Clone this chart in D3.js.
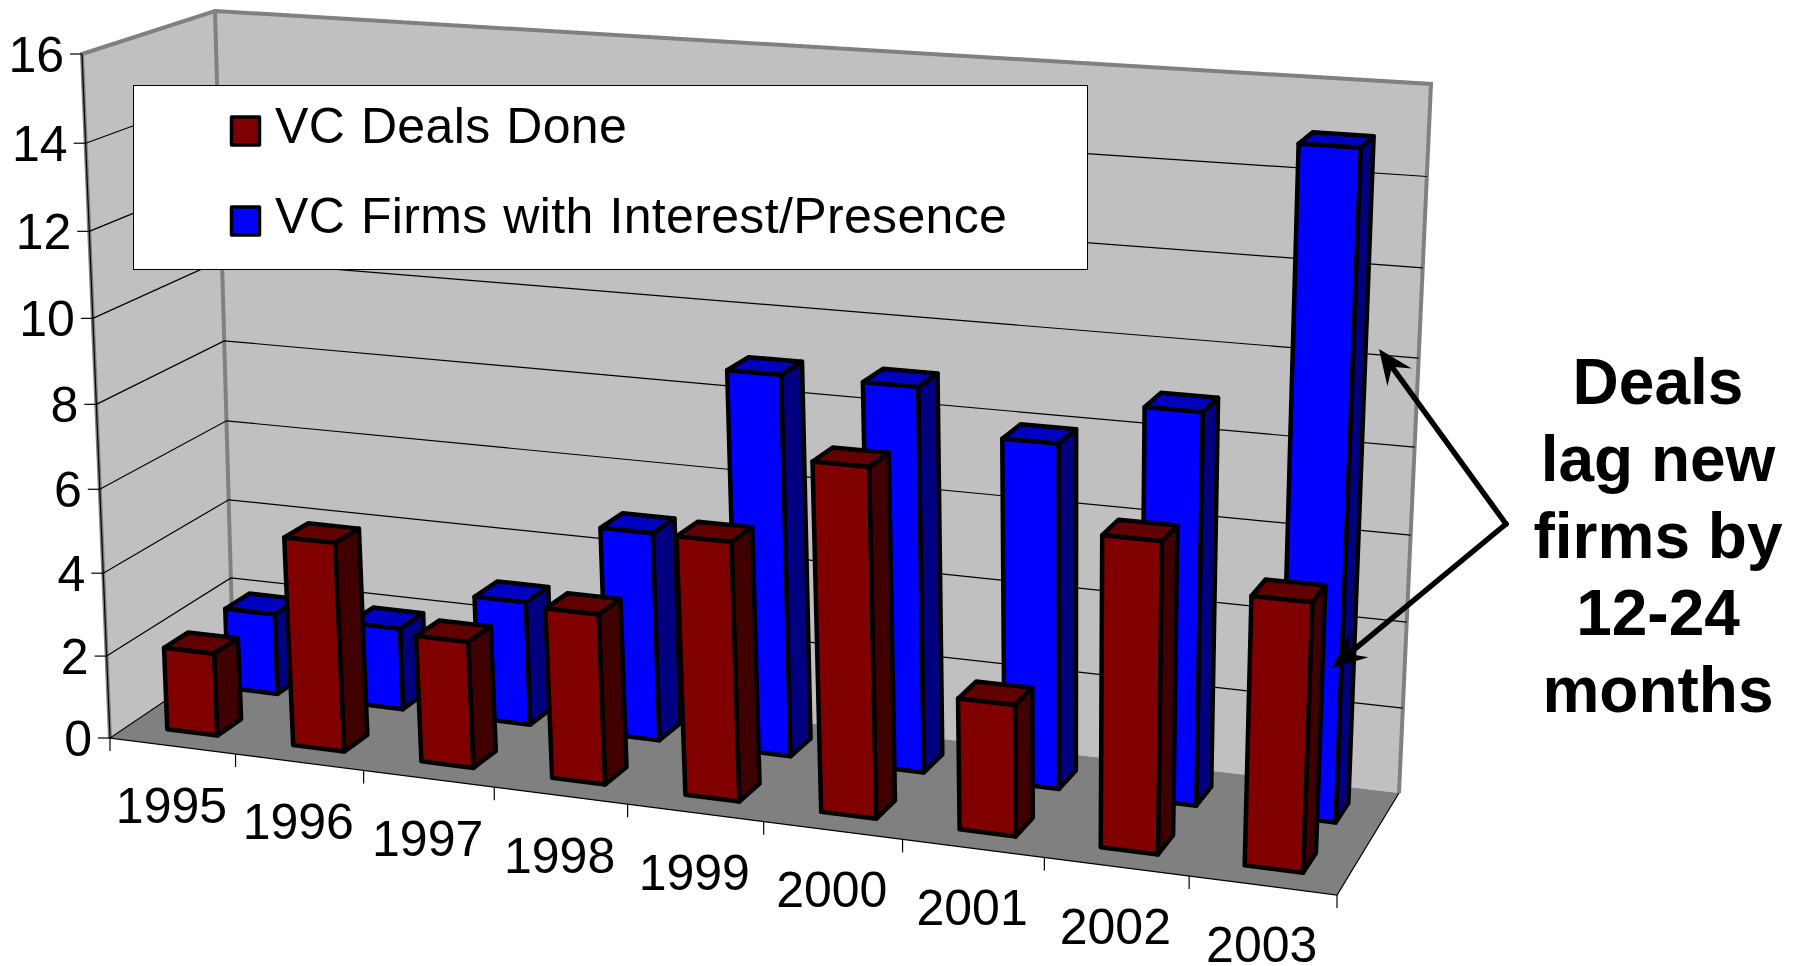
<!DOCTYPE html>
<html>
<head>
<meta charset="utf-8">
<script src="https://cdn.jsdelivr.net/npm/d3@7"></script>
<style>
  html, body { margin: 0; padding: 0; background: #fff; overflow: hidden; }
  text { font-family: "Liberation Sans", Arial, sans-serif; fill: #000; }
</style>
</head>
<body>
<div id="wrapper"></div>
<script>
// data
const years = ["1995","1996","1997","1998","1999","2000","2001","2002","2003"]
const dealsDone = [2,5,3,4,6,8,3,7,6]
const firmsInterest = [2,2,3,5,9,9,8,9,15]
const yTicks = [0,2,4,6,8,10,12,14,16]
const legendLabels = ["VC Deals Done","VC Firms with Interest/Presence"]
const noteLines = ["Deals","lag new","firms by","12-24","months"]

const colors = {
    deals: {front:"#800000", top:"#600000", side:"#400000"},
    firms: {front:"#0000ff", top:"#0000c0", side:"#000080"},
    wall: "#c0c0c0",
    floor: "#808080",
    edge: "#808080"
}

//****************************Dimensions
const width = 1803
const height = 966

// corners of the chart box in the picture: front-left, front-right, back-right, back-left
const floorCorners = [[110,738],[1337,895],[1399,793],[233,655]]
const ceilCorners = [[82,54],[1368,142],[1431,84],[215,11]]

const wrapper = d3.select("#wrapper")
    .append("svg")
    .attr("width", width)
    .attr("height", height)
    .style("display","block")

//****************************Scales
const xScale = d3.scaleBand().domain(years).range([0,1]).paddingInner(0.6).paddingOuter(0.3)
const yScale = d3.scaleLinear().domain([0,16]).range([0,1])
// depth of each row on the floor, 0 front .. 1 back
const depthScale = d3.scaleOrdinal().domain(["deals","firms"]).range([[0.155,0.345],[0.645,0.845]])

// unit square -> quad, perspective
function quadMap(q) {
    const [p0,p1,p2,p3] = q
    const dx1 = p1[0]-p2[0], dx2 = p3[0]-p2[0], sx = p0[0]-p1[0]+p2[0]-p3[0]
    const dy1 = p1[1]-p2[1], dy2 = p3[1]-p2[1], sy = p0[1]-p1[1]+p2[1]-p3[1]
    const den = dx1*dy2-dx2*dy1
    const g = (sx*dy2-dx2*sy)/den
    const h = (dx1*sy-sx*dy1)/den
    const a = p1[0]-p0[0]+g*p1[0], b = p3[0]-p0[0]+h*p3[0], c = p0[0]
    const d = p1[1]-p0[1]+g*p1[1], e = p3[1]-p0[1]+h*p3[1], f = p0[1]
    return (u,v) => {
        const w = g*u+h*v+1
        return [(a*u+b*v+c)/w, (d*u+e*v+f)/w]
    }
}
const floorMap = quadMap(floorCorners)
const ceilMap = quadMap(ceilCorners)

// u along the years, v into the depth, t 0..1 up the value axis
const project = (u,v,t) => {
    const w = u + (0.022+0.03*v)*u*(1-u)   // middle of the chart sits a little further right than plain perspective
    const a = floorMap(w,v), b = ceilMap(w,v)
    const s = t/(t+1.05*(1-t))   // the value axis opens up a bit towards the top too
    return [a[0]+(b[0]-a[0])*s, a[1]+(b[1]-a[1])*s]
}
const poly = d3.line()

//****************************Walls and floor
const walls = wrapper.append("g")

walls.append("path")
    .attr("d", poly([project(0,0,0),project(0,1,0),project(0,1,1),project(0,0,1)])+"Z")
    .attr("fill", colors.wall)
walls.append("path")
    .attr("d", poly([project(0,1,0),project(1,1,0),project(1,1,1),project(0,1,1)])+"Z")
    .attr("fill", colors.wall)
walls.append("path")
    .attr("d", poly([project(0,0,0),project(1,0,0),project(1,1,0),project(0,1,0)])+"Z")
    .attr("fill", colors.floor)

// grey outline of the walls
walls.append("path")
    .attr("d", poly([project(0,0,0),project(0,0,1),project(0,1,1),project(1,1,1),project(1,1,0)]))
    .attr("fill","none").attr("stroke",colors.edge).attr("stroke-width",4)
walls.append("path")
    .attr("d", poly([project(0,1,0),project(0,1,1)]))
    .attr("fill","none").attr("stroke",colors.edge).attr("stroke-width",4)

// gridlines
walls.selectAll(".grid")
    .data(yTicks.slice(1,-1))
    .join("path")
    .attr("class","grid")
    .attr("d", d => poly([project(0,0,yScale(d)),project(0,1,yScale(d)),project(1,1,yScale(d))]))
    .attr("fill","none")
    .attr("stroke","#000")
    .attr("stroke-width",1.2)

// black lines round the floor and y axis
walls.append("path")
    .attr("d", poly([project(0,1,0),project(0,0,0),project(1,0,0),project(1,1,0)]))
    .attr("fill","none").attr("stroke","#000").attr("stroke-width",1.2)
walls.append("path")
    .attr("d", poly([project(0,0,0),project(0,0,1)]))
    .attr("fill","none").attr("stroke","#000").attr("stroke-width",1.2)

//****************************Axes
const yAxis = wrapper.append("g")
const yTick = yAxis.selectAll("g").data(yTicks).join("g")
    .attr("transform", d => `translate(${project(0,0,yScale(d))})`)
yTick.append("line").attr("x1",-12).attr("stroke","#000").attr("stroke-width",1.2)
yTick.append("text")
    .attr("x",-18)
    .attr("dy","0.36em")
    .attr("text-anchor","end")
    .attr("font-size",50)
    .text(d => d)

const xAxis = wrapper.append("g")
xAxis.selectAll("line").data(d3.range(years.length+1)).join("line")
    .attr("transform", d => `translate(${project(d/years.length,0,0)})`)
    .attr("y2",13)
    .attr("stroke","#000")
    .attr("stroke-width",1.2)
xAxis.selectAll("text").data(years).join("text")
    .attr("transform", (d,i) => `translate(${project((i+0.5)/years.length,0,0)})`)
    .attr("x",-1)
    .attr("y",77)
    .attr("text-anchor","middle")
    .attr("font-size",50)
    .text(d => d)

//****************************Bars
const drawSeries = (key, values) => {
    const [v0,v1] = depthScale(key)
    const group = wrapper.append("g").attr("class","bars-"+key)
    values.forEach((val,i) => {
        const u0 = xScale(years[i])
        const u1 = u0 + xScale.bandwidth()
        const t = yScale(val)
        const g = group.append("g")
            .attr("stroke","#000").attr("stroke-width",4.5).attr("stroke-linejoin","round")
        g.append("path")
            .attr("d", poly([project(u0,v0,t),project(u0,v1,t),project(u1,v1,t),project(u1,v0,t)])+"Z")
            .attr("fill", colors[key].top)
        g.append("path")
            .attr("d", poly([project(u1,v0,0),project(u1,v1,0),project(u1,v1,t),project(u1,v0,t)])+"Z")
            .attr("fill", colors[key].side)
        g.append("path")
            .attr("d", poly([project(u0,v0,0),project(u1,v0,0),project(u1,v0,t),project(u0,v0,t)])+"Z")
            .attr("fill", colors[key].front)
    })
}
drawSeries("firms", firmsInterest)
drawSeries("deals", dealsDone)

//****************************Legend
const legend = wrapper.append("g")
legend.append("rect")
    .attr("x",133.5).attr("y",85.5)
    .attr("width",954).attr("height",184)
    .attr("fill","#fff").attr("stroke","#000").attr("stroke-width",1)
const legendItem = legend.selectAll("g").data(legendLabels).join("g")
    .attr("transform",(d,i) => `translate(0,${i*90})`)
legendItem.append("rect")
    .attr("x",231.5).attr("y",117)
    .attr("width",28).attr("height",28)
    .attr("fill",(d,i) => i===0 ? colors.deals.front : colors.firms.front)
    .attr("stroke","#000").attr("stroke-width",3.5).attr("stroke-linejoin","round")
legendItem.append("text")
    .attr("x",275).attr("y",143)
    .attr("font-size",50)
    .attr("word-spacing",1.5)
    .attr("letter-spacing",0.35)
    .text(d => d)

//****************************Annotation
const note = wrapper.append("g")
note.selectAll("text").data(noteLines).join("text")
    .attr("x",1658)
    .attr("y",(d,i) => 404+i*77)
    .attr("text-anchor","middle")
    .attr("font-size",64)
    .attr("font-weight","bold")
    .text(d => d)

const drawArrow = (from, to) => {
    const ang = Math.atan2(to[1]-from[1], to[0]-from[0])
    const pt = (along, off) => [
        to[0]-along*Math.cos(ang)-off*Math.sin(ang),
        to[1]-along*Math.sin(ang)+off*Math.cos(ang)
    ]
    note.append("line")
        .attr("x1",from[0]).attr("y1",from[1])
        .attr("x2",pt(22,0)[0]).attr("y2",pt(22,0)[1])
        .attr("stroke","#000").attr("stroke-width",5.5).attr("stroke-linecap","round")
    note.append("path")
        .attr("d", poly([to,pt(35,15),pt(22,0),pt(35,-15)])+"Z")
        .attr("fill","#000")
}
drawArrow([1506,524],[1379,349])
drawArrow([1506,524],[1332,668])
</script>
</body>
</html>
